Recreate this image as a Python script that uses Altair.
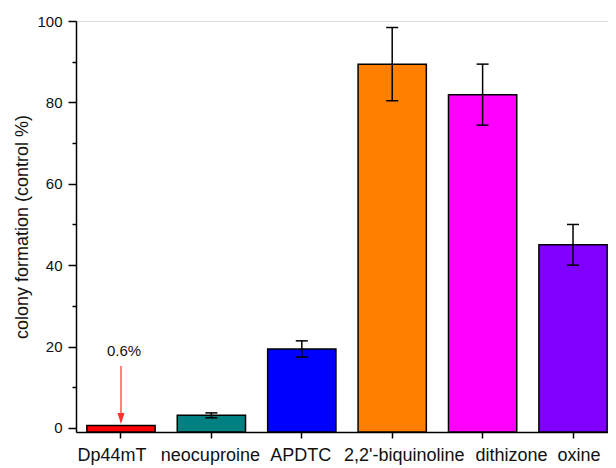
import altair as alt
import pandas as pd

categories = ["Dp44mT", "neocuproine", "APDTC", "2,2'-biquinoline", "dithizone", "oxine"]
values = [0.6, 3.1, 19.4, 89.4, 81.9, 45.0]
errors = [0.0, 0.6, 2.0, 9.0, 7.5, 5.0]
colors = ["#ff0000", "#008080", "#0000ff", "#ff8000", "#ff00ff", "#8000ff"]
y_major = [0, 20, 40, 60, 80, 100]
y_minor = [10, 30, 50, 70, 90]
y_min = -1

note_cat = "Dp44mT"
note_text = "0.6%"
note_y = 18.9
arrow_from = 15.2
arrow_to = 3.6
arrow_head = 2.3

df = pd.DataFrame({"cat": categories, "value": values, "err": errors})
df["lo"] = df["value"] - df["err"]
df["hi"] = df["value"] + df["err"]
df_err = df[df["err"] > 0]

note_df = pd.DataFrame({"cat": [note_cat], "y": [note_y], "label": [note_text],
                        "a1": [arrow_from], "a2": [arrow_to], "ah": [arrow_head]})

FONT = "Liberation Sans"

label_shift = {
    "condition": [
        {"test": "datum.value == 'Dp44mT'", "value": -9},
        {"test": "datum.value == 'neocuproine'", "value": -1},
        {"test": "datum.value == 'APDTC'", "value": -1},
        {"test": "datum.value == \"2,2'-biquinoline\"", "value": 12},
        {"test": "datum.value == 'dithizone'", "value": 29},
    ],
    "value": 6,
}

x_enc = alt.X(
    "cat:N",
    sort=categories,
    scale=alt.Scale(domain=categories, range=[0, 542], paddingInner=0.245, paddingOuter=0.12),
    axis=alt.Axis(
        title=None, labelAngle=0, labelFont=FONT, labelFontSize=18, labelColor="#111",
        tickSize=6, tickWidth=1.5, tickColor="black", labelPadding=8,
        domainColor="black", domainWidth=1.5, labelOffset=label_shift,
    ),
)

y_scale = alt.Scale(domain=[y_min, 100], nice=False, zero=False)
y_axis = alt.Axis(
    title="colony formation (control %)",
    titleFont=FONT, titleFontSize=18, titleFontWeight="normal", titleColor="#111",
    titlePadding=5,
    values=sorted(y_major + y_minor),
    labelExpr="datum.value % 20 == 0 ? datum.label : ''",
    labelFont=FONT, labelFontSize=15, labelColor="#111", labelPadding=6,
    tickSize={"condition": {"test": "datum.value % 20 != 0", "value": 4}, "value": 8},
    tickWidth=1.5, tickColor="black", domainColor="black", domainWidth=1.5,
    grid=False,
)

base = alt.Chart(df)

bars = base.mark_bar(stroke="black", strokeWidth=1.5).encode(
    x=x_enc,
    y=alt.Y("value:Q", scale=y_scale, axis=y_axis),
    y2=alt.datum(y_min),
    color=alt.Color("cat:N", scale=alt.Scale(domain=categories, range=colors), legend=None),
)

err_rule = alt.Chart(df_err).mark_rule(color="black", strokeWidth=1.5).encode(
    x=alt.X("cat:N", sort=categories), y="lo:Q", y2="hi:Q"
)
cap_lo = alt.Chart(df_err).mark_tick(color="black", size=12, thickness=1.5, opacity=1).encode(
    x=alt.X("cat:N", sort=categories), y="lo:Q"
)
cap_hi = alt.Chart(df_err).mark_tick(color="black", size=12, thickness=1.5, opacity=1).encode(
    x=alt.X("cat:N", sort=categories), y="hi:Q"
)

note = alt.Chart(note_df).mark_text(font=FONT, fontSize=15, dx=3, color="#111").encode(
    x=alt.X("cat:N", sort=categories), y="y:Q", text="label:N"
)
arrow_line = alt.Chart(note_df).mark_rule(color="#ff5a5a", strokeWidth=1.5).encode(
    x=alt.X("cat:N", sort=categories), y="a1:Q", y2="a2:Q"
)
arrow_tip = alt.Chart(note_df).mark_point(
    shape="M-0.32,-0.5L0.32,-0.5L0,0.5Z", size=484, filled=True, color="#ff3030", opacity=1
).encode(x=alt.X("cat:N", sort=categories), y="ah:Q")

chart = alt.layer(bars, err_rule, cap_lo, cap_hi, arrow_line, arrow_tip, note).properties(
    width=532, height=411,
    autosize=alt.AutoSizeParams(type="none"),
    padding={"left": 68, "top": 13, "right": 0, "bottom": 36},
).configure_view(stroke=None).configure(background="white")

chart.save("out.html", embed_options={"renderer": "svg", "actions": False})
